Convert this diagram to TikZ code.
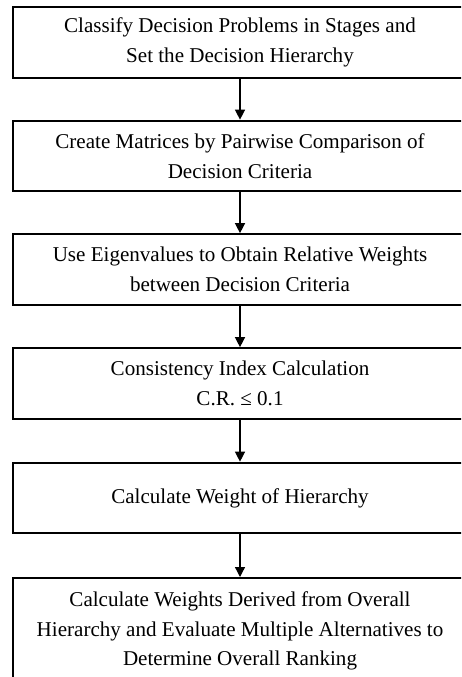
\documentclass[tikz,border=0pt]{standalone}
\usepackage{fontspec}
\setmainfont{Liberation Serif}
\usetikzlibrary{arrows.meta, positioning}

\tikzset{
  langkah/.style={draw, line width=1.5pt, rectangle, align=center,
    minimum width=340.5pt, minimum height=53pt, inner sep=0pt,
    font=\fontsize{15.8}{22.2}\selectfont},
  panah/.style={line width=1pt, -{Triangle[length=7.5pt, width=7.5pt]}}
}

\begin{document}
\begin{tikzpicture}[x=0.75pt, y=-0.75pt]
  \useasboundingbox (0,0) rectangle (461,677);
  \clip (0,0) rectangle (461,677);

  % Kotak langkah
  \node[langkah] (klasifikasi) at (240,42.5) {Classify Decision Problems in Stages and\\Set the Decision Hierarchy};
  \node[langkah] (matriks) at (240,156) {Create Matrices by Pairwise Comparison of\\Decision Criteria};
  \node[langkah] (eigen) at (240,269.5) {Use Eigenvalues to Obtain Relative Weights\\between Decision Criteria};
  \node[langkah] (konsistensi) at (240,383.5) {Consistency Index Calculation\\C.R. ≤ 0.1};
  \node[langkah] (bobot) at (240,498) {Calculate Weight of Hierarchy};
  \node[langkah, minimum height=79.5pt] (peringkat) at (240,631) {Calculate Weights Derived from Overall\\Hierarchy and Evaluate Multiple Alternatives to\\Determine Overall Ranking};

  % Panah antar langkah
  \draw[panah] (klasifikasi) -- (matriks);
  \draw[panah] (matriks) -- (eigen);
  \draw[panah] (eigen) -- (konsistensi);
  \draw[panah] (konsistensi) -- (bobot);
  \draw[panah] (bobot) -- (peringkat);
\end{tikzpicture}
\end{document}
